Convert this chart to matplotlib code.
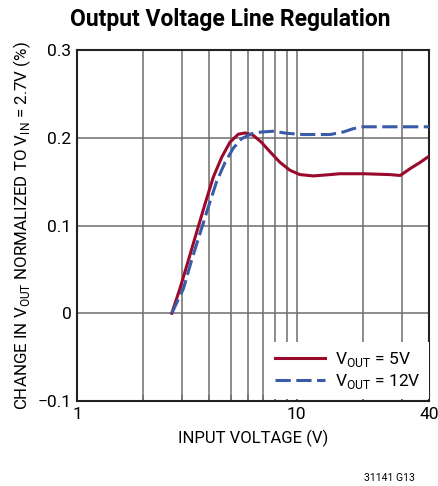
import matplotlib
matplotlib.use("Agg")
import matplotlib.pyplot as plt
from matplotlib.ticker import FixedLocator, NullFormatter

plt.rcParams['font.family'] = ['Roboto', 'DejaVu Sans']
plt.rcParams['mathtext.fontset'] = 'custom'
plt.rcParams['mathtext.rm'] = 'Roboto'

# VOUT = 5V curve
vin_5v = [2.7, 2.94, 3.21, 3.51, 3.83, 4.17, 4.56, 4.97, 5.42, 5.82, 6.34,
          6.9, 7.56, 8.39, 9.31, 10.35, 11.9, 14.2, 15.7, 20.1, 26.6, 29.6,
          32.9, 36.5, 40]
dv_5v = [0.0, 0.028, 0.060, 0.093, 0.125, 0.155, 0.178, 0.195, 0.204, 0.2055,
         0.2028, 0.195, 0.184, 0.172, 0.163, 0.158, 0.1565, 0.158, 0.159, 0.159,
         0.158, 0.157, 0.165, 0.172, 0.179]

# VOUT = 12V curve
vin_12v = [2.7, 3.05, 3.32, 3.63, 3.96, 4.32, 4.72, 5.14, 5.62, 6.24, 6.93,
           7.83, 9.0, 10.7, 14.2, 16.3, 18.1, 20.1, 23.9, 40]
dv_12v = [0.0, 0.028, 0.060, 0.091, 0.121, 0.150, 0.172, 0.188, 0.199, 0.2047,
          0.2066, 0.2074, 0.2051, 0.2037, 0.2037, 0.2066, 0.2104, 0.2125, 0.2125,
          0.2125]

red = '#990a2c'
blue = '#3a5ba8'

fig = plt.figure(figsize=(4.39, 4.86), dpi=100)
ax = fig.add_axes([0.1754, 0.1749, 0.8018, 0.7222])

ax.set_xscale('log')
ax.set_xlim(1, 40)
ax.set_ylim(-0.1, 0.3)

ax.xaxis.set_major_locator(FixedLocator([1, 10, 40]))
ax.xaxis.set_minor_locator(FixedLocator([2, 3, 4, 5, 6, 7, 8, 9, 20, 30]))
ax.xaxis.set_minor_formatter(NullFormatter())
ax.set_xticklabels(['1', '10', '40'])
ax.set_yticks([-0.1, 0, 0.1, 0.2, 0.3])
ax.set_yticklabels(['\u22120.1', '0', '0.1', '0.2', '0.3'])

ax.grid(True, which='both', color='#6e6e6e', linewidth=1.1)
ax.set_axisbelow(True)
ax.tick_params(which='both', length=4, direction='in', color='#6e6e6e',
               labelsize=12.5, pad=4, left=False, width=1.1)

for s in ax.spines.values():
    s.set_linewidth(1.5)
    s.set_color('#222222')

ax.plot(vin_5v, dv_5v, color=red, lw=2.2, label=r'V$_{\mathregular{OUT}}$ = 5V', zorder=3)
ax.plot(vin_12v, dv_12v, color=blue, lw=2.2, dashes=(5, 1.8),
        label=r'V$_{\mathregular{OUT}}$ = 12V', zorder=4)

leg = ax.legend(loc='lower right', bbox_to_anchor=(1.0, 0.005), frameon=True,
                fancybox=False, fontsize=12.5, handlelength=2.9,
                borderaxespad=0.0, labelspacing=0.2, handletextpad=0.6,
                borderpad=0.45)
leg.get_frame().set_edgecolor('none')
leg.get_frame().set_facecolor('white')
leg.get_frame().set_alpha(1)

ax.set_xlabel('INPUT VOLTAGE (V)', fontsize=12, labelpad=6)
ax.set_ylabel(r'CHANGE IN V$_{\mathregular{OUT}}$ NORMALIZED TO V$_{\mathregular{IN}}$ = 2.7V (%)',
              fontsize=12.2, labelpad=3)

fig.text(0.525, 0.96, 'Output Voltage Line Regulation', ha='center', va='center',
         fontsize=16.5, fontweight='bold')
fig.text(0.945, 0.017, '31141 G13', ha='right', va='center', fontsize=7.5)

fig.savefig('out.png', dpi=100)
